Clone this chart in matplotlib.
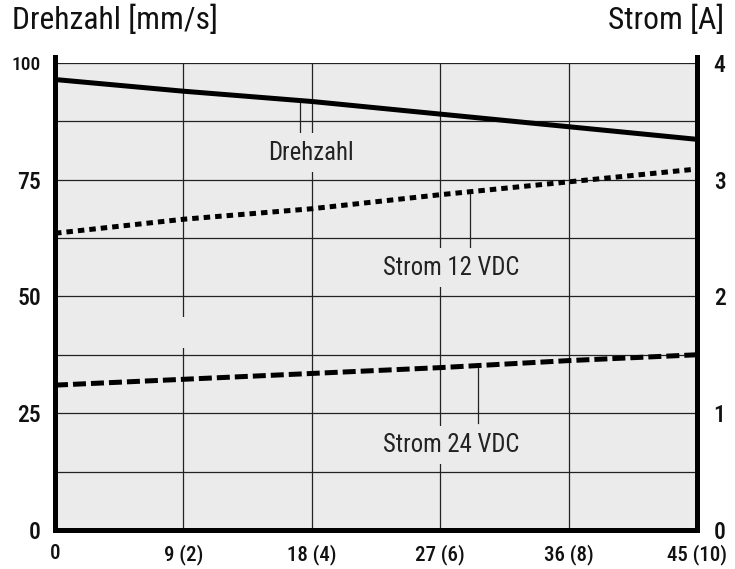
import matplotlib
matplotlib.use("Agg")
import matplotlib.pyplot as plt
from matplotlib import font_manager

# ---- data ----
x_vals = [0, 9, 18, 27, 36, 45]
x_ticklabels = ["0", "9 (2)", "18 (4)", "27 (6)", "36 (8)", "45 (10)"]
drehzahl = [96.4, 93.9, 91.7, 89.0, 86.3, 83.6]          # mm/s (left axis)
strom_12 = [2.54, 2.66, 2.75, 2.87, 2.98, 3.09]          # A (right axis)
strom_24 = [1.24, 1.29, 1.34, 1.39, 1.45, 1.50]          # A (right axis)
left_ticks = [0, 25, 50, 75, 100]
right_ticks = [0, 1, 2, 3, 4]

# ---- font choice (condensed sans) ----
entries = [(f.name, f.stretch) for f in font_manager.fontManager.ttflist]
names = set(n for n, _ in entries)
family, stretch = "DejaVu Sans", "normal"
for cand in ["Roboto Condensed", "Liberation Sans Narrow", "Arial Narrow",
             "Archivo Narrow", "PT Sans Narrow", "Fira Sans Condensed",
             "IBM Plex Sans Condensed"]:
    if cand in names:
        family = cand
        break
else:
    if ("Roboto", "condensed") in entries:
        family, stretch = "Roboto", "condensed"
plt.rcParams["font.family"] = [family, "DejaVu Sans"]
plt.rcParams["font.stretch"] = stretch

tc = "#111111"
bg = "#ebebeb"
fig = plt.figure(figsize=(7.35, 5.69), dpi=100)
ax = fig.add_axes([55/735, 1-530/569, (697-55)/735, (530-62.7)/569])
ax.set_facecolor(bg)
ax.set_xlim(0, 45)
ax.set_ylim(0, 100)

# grid
for yv in [12.5, 25, 37.5, 50, 62.5, 75, 87.5, 100]:
    ax.axhline(yv, color="#222222", lw=0.9, zorder=1)
for xv in [9, 18, 27, 36]:
    ax.axvline(xv, color="#222222", lw=0.9, zorder=1)

# gap in grid line at x=9
ax.add_patch(plt.Rectangle((8.6, 38.9), 0.8, 6.7, facecolor=bg, edgecolor="none", zorder=2))

# curves
ax.plot(x_vals, drehzahl, color="black", lw=3.6, solid_capstyle="butt", zorder=4)
s12 = [v * 25 for v in strom_12]
s24 = [v * 25 for v in strom_24]
ax.plot(x_vals, s12, color="black", lw=3.6, linestyle=(0, (1.3, 1.0)),
        dash_capstyle="butt", zorder=4)
ax.plot(x_vals, s24, color="black", lw=3.6, linestyle=(0, (2.6, 1.0)),
        dash_capstyle="butt", zorder=4)

# annotations with leader lines
txt_kw = dict(ha="center", va="center", fontsize=17.8, color="#222222", zorder=5,
              bbox=dict(boxstyle="square,pad=0.3", facecolor=bg, edgecolor="none"))
ax.text(17.95, 80.7, "Drehzahl", **txt_kw)
ax.text(27.75, 56.1, "Strom 12 VDC", **txt_kw)
ax.text(27.75, 18.2, "Strom 24 VDC", **txt_kw)
ax.plot([17.2, 17.2], [84.1, 91.3], color="#222222", lw=0.9, zorder=3)
ax.plot([29.1, 29.1], [60.1, 72.3], color="#222222", lw=0.9, zorder=3)
ax.plot([29.65, 29.65], [22.9, 35.2], color="#222222", lw=0.9, zorder=3)

# spines
for s in ["left", "right", "bottom"]:
    ax.spines[s].set_linewidth(3.6)
    ax.spines[s].set_zorder(6)
ax.spines["top"].set_visible(False)
ax.spines["left"].set_bounds(0, 101.3)
ax.spines["right"].set_bounds(0, 101.3)

ax.set_xticks(x_vals)
ax.set_xticklabels(x_ticklabels)
ax.set_yticks(left_ticks)
ax.tick_params(axis="both", length=0, labelcolor=tc)
ax.tick_params(axis="x", labelsize=15, pad=10)
ax.tick_params(axis="y", labelsize=17, pad=10)
for lab in ax.get_yticklabels():
    if lab.get_text() == "100":
        lab.set_fontsize(14)
for lab in ax.get_xticklabels() + ax.get_yticklabels():
    lab.set_fontweight("medium")

ax2 = ax.twinx()
ax2.set_ylim(0, 4)
ax2.set_yticks(right_ticks)
ax2.tick_params(axis="y", length=0, labelsize=17, pad=12, labelcolor=tc)
for lab in ax2.get_yticklabels():
    lab.set_fontweight("medium")
for s in ax2.spines.values():
    s.set_visible(False)

fig.text(12/735, 1-20/569, "Drehzahl [mm/s]", fontsize=22.8, ha="left", va="center", color=tc)
fig.text(724/735, 1-20/569, "Strom [A]", fontsize=22.8, ha="right", va="center", color=tc)

fig.savefig("out.png", dpi=100)
